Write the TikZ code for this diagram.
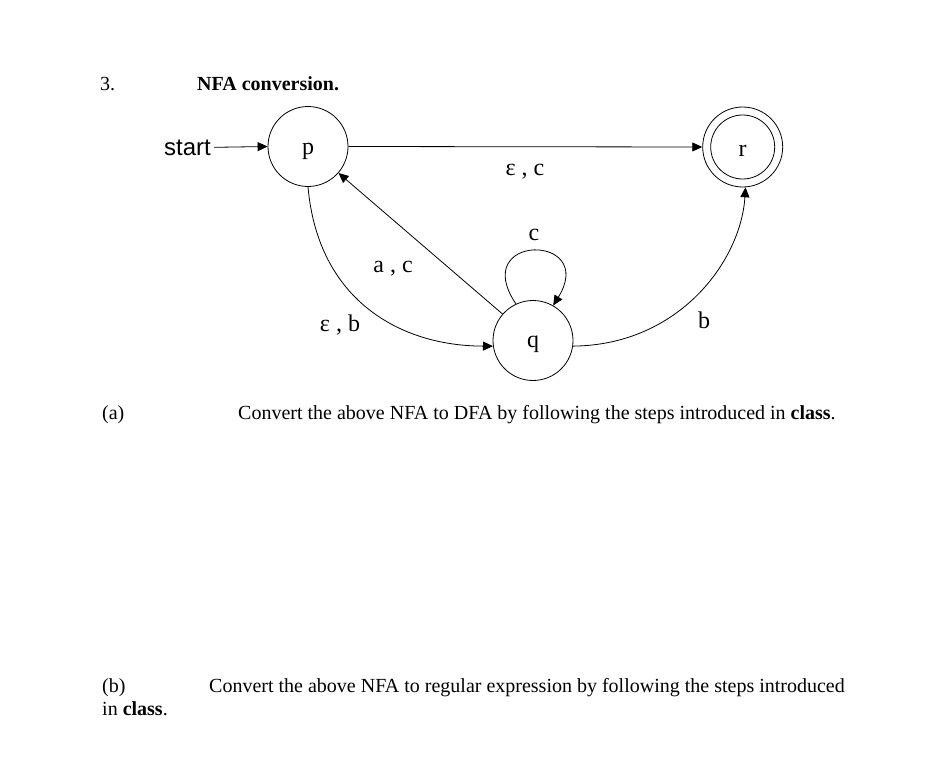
\documentclass[tikz,border=0pt]{standalone}
\usepackage{fontspec}
\setmainfont{Liberation Serif}
\newfontfamily\startfont{Liberation Sans}
\usetikzlibrary{arrows.meta}
\tikzset{
  state/.style={draw, circle, minimum size=80pt, inner sep=0pt, line width=0.8pt},
  slabel/.style={inner sep=0pt, anchor=base, font=\fontsize{24}{28}\selectfont},
  edge/.style={line width=0.8pt, -{Triangle[length=10pt,width=9pt]}},
  elabel/.style={inner sep=0pt, anchor=base, font=\fontsize{24}{28}\selectfont},
  txt/.style={inner sep=0pt, anchor=base west, font=\fontsize{20}{24}\selectfont},
}
\begin{document}
\begin{tikzpicture}[x=1pt,y=-1pt]
\useasboundingbox (0,0) rectangle (943,768);
\node[txt] (num) at (100,91) {3.};
\node[txt, font=\fontsize{20}{24}\selectfont\bfseries] (title) at (197,91) {NFA conversion.};
\node[state] (p) at (308,146.5) {};
\node[state] (q) at (533,340.5) {};
\node[state] (r) at (742.7,147) {};
\node[slabel] (pl) at (308,154) {p};
\node[slabel] (ql) at (533,347) {q};
\node[slabel] (rl) at (742.7,156.5) {r};
\draw[line width=0.8pt] (r.center) circle[radius=32pt];
\node[inner sep=0pt, anchor=base east, font=\startfont\fontsize{24}{28}\selectfont] (start) at (211,155) {start};
\draw[edge, shorten <=3pt] (start.east) -- (p.west);
\draw[edge] (p.east) -- (r.west);
\draw[edge] (q.139) -- (p.-41);
\draw[edge] (p.south) .. controls (318,300) and (400,346) .. (q.188);
\draw[edge] (q.352) .. controls (680,345) and (741,260) .. (r.274);
\draw[edge] (q.115) .. controls (468,233) and (598,233) .. (q.60);
\node[elabel] (l1) at (525,175) {ε , c};
\node[elabel] (l2) at (534,240) {c};
\node[elabel] (l3) at (393,272) {a , c};
\node[elabel] (l4) at (340,331.5) {ε , b};
\node[elabel] (l5) at (704,328) {b};
\node[txt] (a) at (102,419) {(a)};
\node[txt] (ta) at (238,419) {Convert the above NFA to DFA by following the steps introduced in \textbf{class}.};
\node[txt] (b) at (102,692) {(b)};
\node[txt] (tb) at (209,692) {Convert the above NFA to regular expression by following the steps introduced};
\node[txt] (tc) at (102,715) {in \textbf{class}.};
\end{tikzpicture}
\end{document}
